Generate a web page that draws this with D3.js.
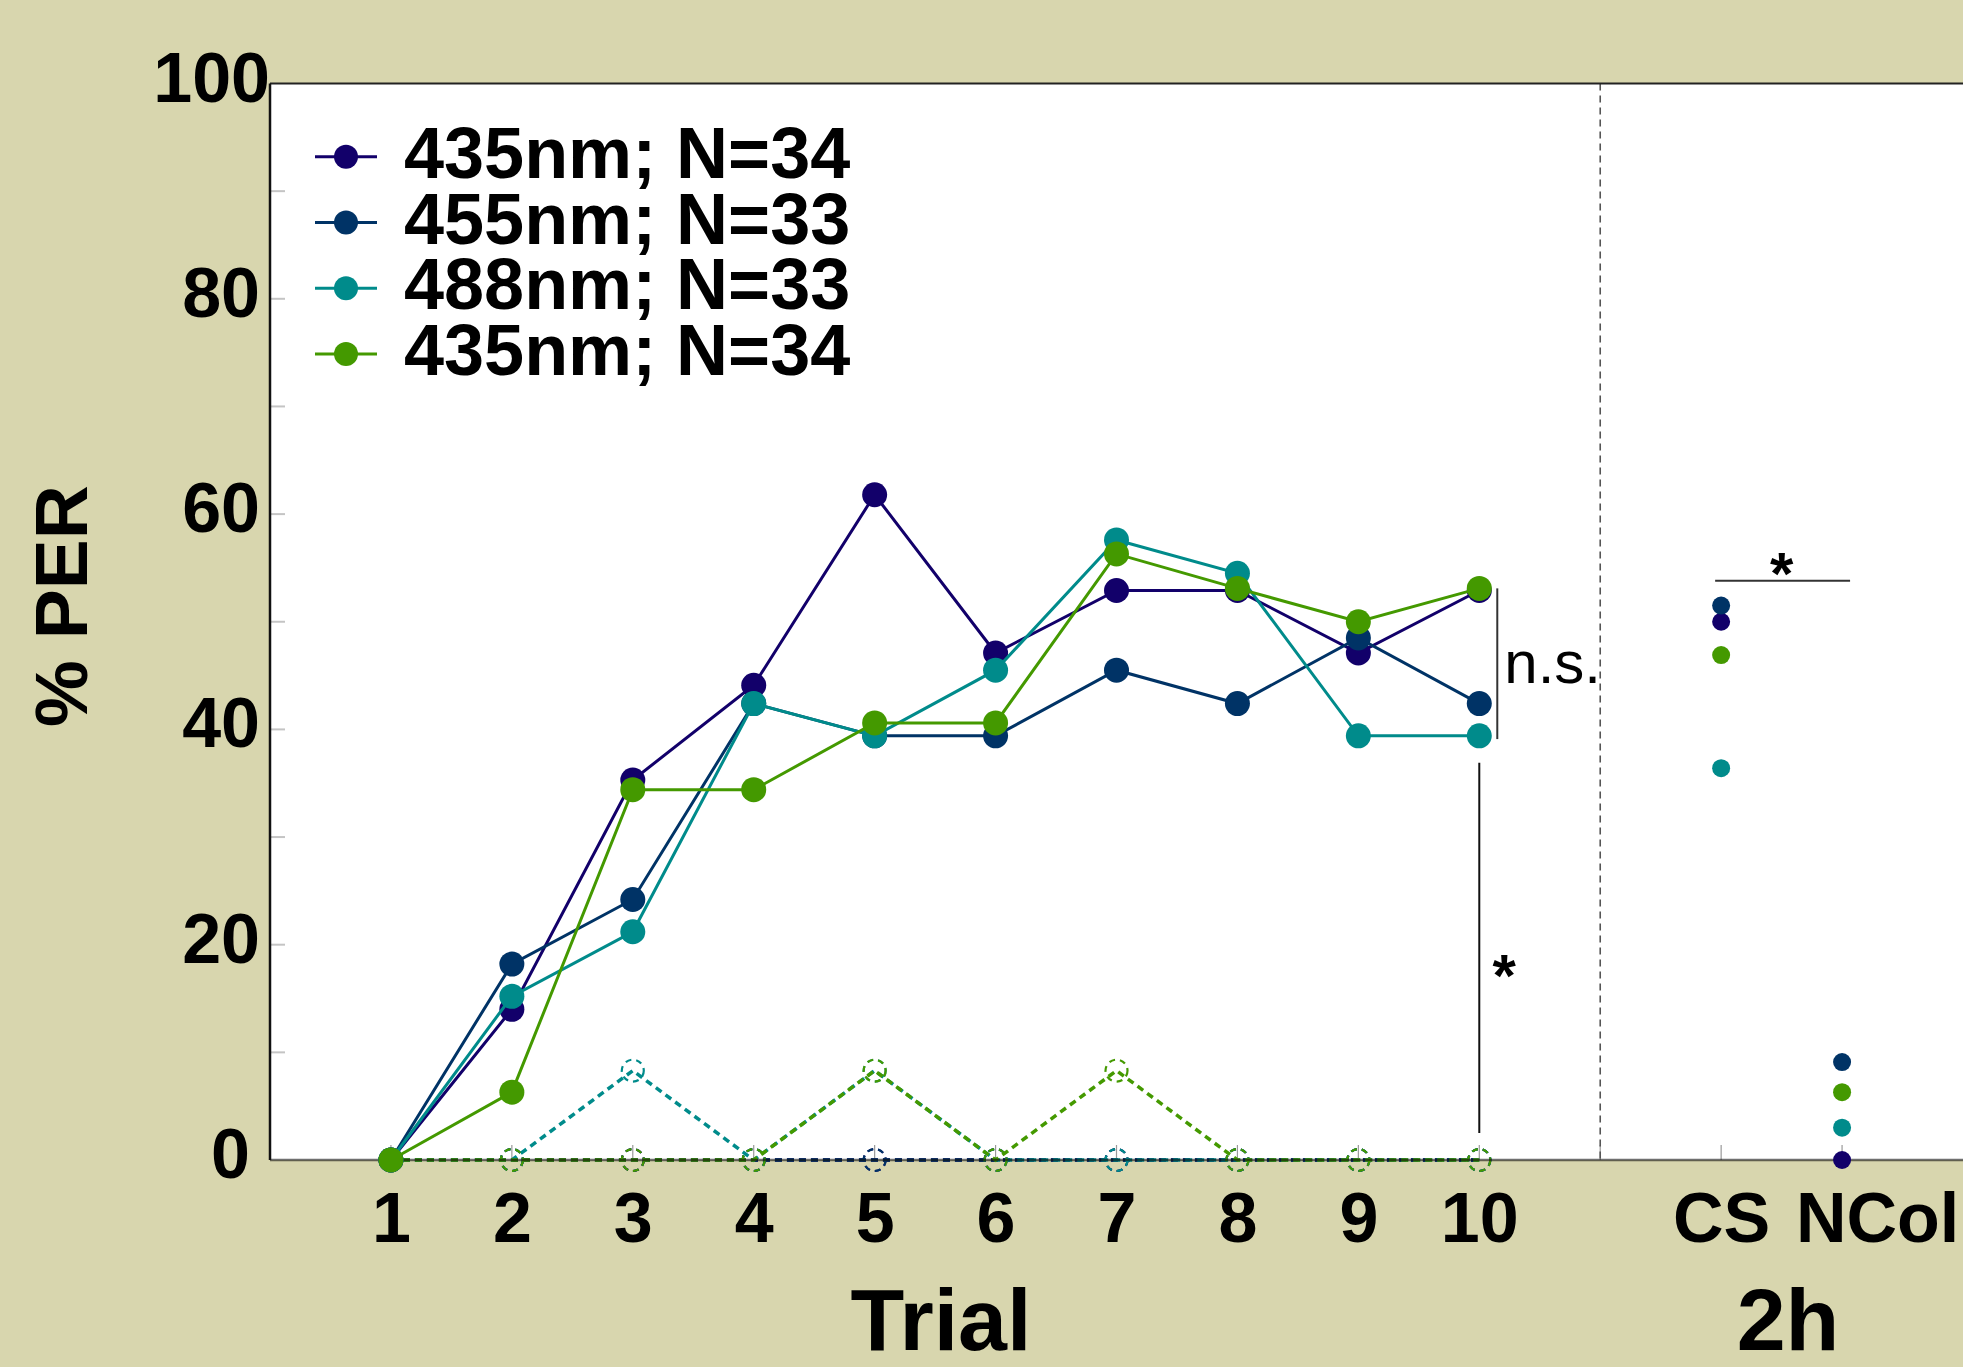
<!DOCTYPE html>
<html>
<head>
<meta charset="utf-8">
<script src="https://cdn.jsdelivr.net/npm/d3@7"></script>
<style>
  html, body { margin: 0; padding: 0; background: #d8d6ae; }
  svg { display: block; }
  text { font-family: "Liberation Sans", Arial, sans-serif; fill: #000; }
</style>
</head>
<body>
<svg id="chart" width="1963" height="1367"></svg>
<script>
// Trials and test positions on the x axis
var trials = [1, 2, 3, 4, 5, 6, 7, 8, 9, 10];
var testPos = [12, 13];
var testLabels = ["CS", "NCol"];

// Series (legend text as printed)
var names = ["435nm; N=34", "455nm; N=33", "488nm; N=33", "435nm; N=34"];
var colors = ["#12006a", "#003366", "#008b8b", "#449900"];

// % PER per trial, conditioned responses (solid)
var cs435 = [0, 14.0, 35.3, 44.1, 61.8, 47.1, 52.9, 52.9, 47.1, 52.9];
var cs455 = [0, 18.2, 24.2, 42.4, 39.4, 39.4, 45.5, 42.4, 48.5, 42.4];
var cs488 = [0, 15.2, 21.2, 42.4, 39.4, 45.5, 57.6, 54.5, 39.4, 39.4];
var cs435b = [0, 6.3, 34.4, 34.4, 40.6, 40.6, 56.3, 53.1, 50.0, 53.1];

// % PER per trial, control responses (dashed, open markers)
var ctl435 = [0, 0, 0, 0, 0, 0, 0, 0, 0, 0];
var ctl455 = [0, 0, 0, 0, 0, 0, 0, 0, 0, 0];
var ctl488 = [0, 0, 8.3, 0, 8.3, 0, 0, 0, 0, 0];
var ctl435b = [0, 0, 0, 0, 8.3, 0, 8.3, 0, 0, 0];

// 2h retention test, one value per series
var test2hCS = [50.0, 51.5, 36.4, 46.9];
var test2hNCol = [0, 9.1, 3.0, 6.3];

var yTicks = [0, 20, 40, 60, 80, 100];
var yMinor = [10, 20, 30, 40, 50, 60, 70, 80, 90];

var solid = [cs435, cs455, cs488, cs435b];
var dashed = [ctl435, ctl455, ctl488, ctl435b];

var svg = d3.select("#chart");

var x = d3.scaleLinear().domain([0, 14]).range([270, 1963]);
var y = d3.scaleLinear().domain([0, 100]).range([1160, 83.5]);

// plot area
svg.append("rect")
  .attr("x", x(0)).attr("y", y(100))
  .attr("width", x(14) - x(0)).attr("height", y(0) - y(100))
  .attr("fill", "#fff");

// inner grey ticks
svg.append("g").selectAll("line")
  .data(yMinor).enter().append("line")
  .attr("x1", x(0)).attr("x2", x(0) + 15)
  .attr("y1", function(d) { return y(d); })
  .attr("y2", function(d) { return y(d); })
  .attr("stroke", "#c4c4c4").attr("stroke-width", 2);

svg.append("g").selectAll("line")
  .data(trials.concat([11], testPos)).enter().append("line")
  .attr("x1", function(d) { return x(d); })
  .attr("x2", function(d) { return x(d); })
  .attr("y1", y(0)).attr("y2", y(0) - 15)
  .attr("stroke", "#999").attr("stroke-width", 1.2);

// separator between training and test
svg.append("line")
  .attr("x1", x(11)).attr("x2", x(11))
  .attr("y1", y(100)).attr("y2", y(0))
  .attr("stroke", "#555").attr("stroke-width", 1.6)
  .attr("stroke-dasharray", "7,5");

// axes
var yAxis = d3.axisLeft(y).tickValues(yTicks).tickSize(0).tickPadding(10);
var gy = svg.append("g").attr("transform", "translate(" + x(0) + ",0)").call(yAxis);
gy.select(".domain").remove();
gy.selectAll("text")
  .attr("dy", "0.25em")
  .attr("dx", function(d) { return d === 0 ? -10 : d === 100 ? 10 : 0; })
  .style("font-size", "70px").style("font-weight", "bold")
  .style("font-family", "'Liberation Sans', Arial, sans-serif");

var xLabels = trials.map(String).concat(testLabels);
var xAxis = d3.axisBottom(x).tickValues(trials.concat(testPos))
  .tickFormat(function(d, i) { return xLabels[i]; })
  .tickSize(0).tickPadding(32);
var gx = svg.append("g").attr("transform", "translate(0," + y(0) + ")").call(xAxis);
gx.select(".domain").remove();
gx.selectAll("text")
  .attr("dx", function(d) { return d === 13 ? 35 : 0; })
  .style("font-size", "70px").style("font-weight", "bold")
  .style("font-family", "'Liberation Sans', Arial, sans-serif");

// frame lines
svg.append("line").attr("x1", x(0)).attr("x2", x(14))
  .attr("y1", y(100)).attr("y2", y(100))
  .attr("stroke", "#222").attr("stroke-width", 2);
svg.append("line").attr("x1", x(0)).attr("x2", x(0))
  .attr("y1", y(100)).attr("y2", y(0))
  .attr("stroke", "#111").attr("stroke-width", 2.5);

var line = d3.line()
  .x(function(d, i) { return x(trials[i]); })
  .y(function(d) { return y(d); });

// control series (dashed)
dashed.forEach(function(vals, k) {
  svg.append("path").datum(vals)
    .attr("d", line).attr("fill", "none")
    .attr("stroke", colors[k]).attr("stroke-width", 3.5)
    .attr("stroke-dasharray", "7,5");
  svg.append("g").selectAll("circle")
    .data(vals).enter().append("circle")
    .attr("cx", function(d, i) { return x(trials[i]); })
    .attr("cy", function(d) { return y(d); })
    .attr("r", 11)
    .attr("fill", "none").attr("stroke", colors[k])
    .attr("stroke-width", 2.2).attr("stroke-dasharray", "6,5");
});

svg.append("line").attr("x1", x(0)).attr("x2", x(14))
  .attr("y1", y(0)).attr("y2", y(0))
  .attr("stroke", "#111").attr("stroke-width", 2.5).attr("opacity", 0.6);

// conditioned series (solid)
solid.forEach(function(vals, k) {
  svg.append("path").datum(vals)
    .attr("d", line).attr("fill", "none")
    .attr("stroke", colors[k]).attr("stroke-width", 3);
  svg.append("g").selectAll("circle")
    .data(vals).enter().append("circle")
    .attr("cx", function(d, i) { return x(trials[i]); })
    .attr("cy", function(d) { return y(d); })
    .attr("r", 12.5)
    .attr("fill", colors[k]);
});

// 2h test points
[test2hCS, test2hNCol].forEach(function(vals, j) {
  svg.append("g").selectAll("circle")
    .data(vals).enter().append("circle")
    .attr("cx", x(testPos[j]))
    .attr("cy", function(d) { return y(d); })
    .attr("r", 9)
    .attr("fill", function(d, k) { return colors[k]; });
});

// significance marks
svg.append("line")
  .attr("x1", x(10) + 18).attr("x2", x(10) + 18)
  .attr("y1", y(53.1)).attr("y2", y(39.1))
  .attr("stroke", "#333").attr("stroke-width", 2);
svg.append("text")
  .attr("x", x(10) + 25).attr("y", 683)
  .style("font-size", "60px")
  .text("n.s.");

svg.append("line")
  .attr("x1", x(10)).attr("x2", x(10))
  .attr("y1", y(36.9)).attr("y2", y(2.5))
  .attr("stroke", "#111").attr("stroke-width", 2);
svg.append("text")
  .attr("x", x(10) + 25).attr("y", y(18.4) + 34)
  .attr("text-anchor", "middle")
  .style("font-size", "60px").style("font-weight", "bold")
  .text("*");

svg.append("line")
  .attr("x1", x(12) - 6).attr("x2", x(13) + 8)
  .attr("y1", y(53.8)).attr("y2", y(53.8))
  .attr("stroke", "#333").attr("stroke-width", 2);
svg.append("text")
  .attr("x", x(12.5)).attr("y", y(55.7) + 34)
  .attr("text-anchor", "middle")
  .style("font-size", "60px").style("font-weight", "bold")
  .text("*");

// legend
var legend = svg.append("g").selectAll("g")
  .data(names).enter().append("g")
  .attr("transform", function(d, i) { return "translate(0," + (156.7 + i * 65.8) + ")"; });
legend.append("line")
  .attr("x1", 315).attr("x2", 377)
  .attr("stroke", function(d, i) { return colors[i]; })
  .attr("stroke-width", 3);
legend.append("circle")
  .attr("cx", 346).attr("r", 12)
  .attr("fill", function(d, i) { return colors[i]; });
legend.append("text")
  .attr("x", 404).attr("y", 21)
  .style("font-size", "72px").style("font-weight", "bold")
  .text(function(d) { return d; });

// axis titles
svg.append("text")
  .attr("transform", "translate(87,606) rotate(-90)")
  .attr("text-anchor", "middle")
  .style("font-size", "75px").style("font-weight", "bold")
  .text("% PER");
svg.append("text")
  .attr("x", 941).attr("y", 1350)
  .attr("text-anchor", "middle")
  .style("font-size", "88px").style("font-weight", "bold")
  .text("Trial");
svg.append("text")
  .attr("x", 1788).attr("y", 1350)
  .attr("text-anchor", "middle")
  .style("font-size", "88px").style("font-weight", "bold")
  .text("2h");
</script>
</body>
</html>
